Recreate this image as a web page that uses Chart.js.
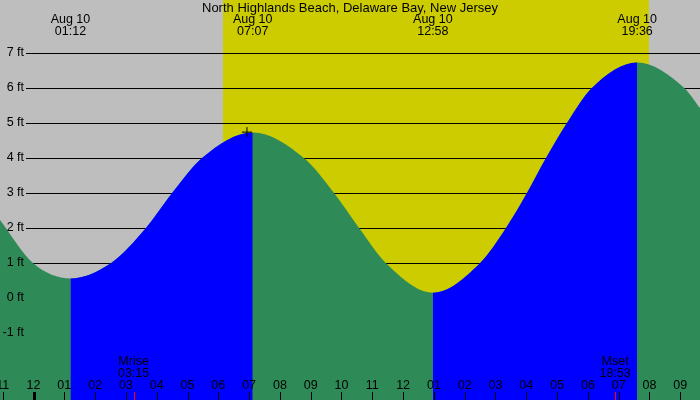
<!DOCTYPE html>
<html>
<head>
<meta charset="utf-8">
<script src="https://cdn.jsdelivr.net/npm/chart.js@4.4.1/dist/chart.umd.min.js"></script>
<style>
  html, body { margin: 0; padding: 0; background: #bebebe; }
  #wrap { width: 700px; height: 400px; }
</style>
</head>
<body>
<div id="wrap"><canvas id="tideChart" width="700" height="400"></canvas></div>
<script>
const title = 'North Highlands Beach, Delaware Bay, New Jersey';

// tide curve, hours after midnight Aug 10 -> feet
const tideHours = [-1.09, -0.02, 1.2, 2.52, 3.65, 4.5, 5.47, 7.117, 8.78, 9.76, 10.57, 11.44, 12.967, 14.5, 15.34, 16.02, 16.64, 17.32, 18.13, 19.6, 21.13, 21.64];
const tideFeet  = [2.23, 1.0, 0.56, 1.0, 2.0, 3.0, 4.0, 4.73, 4.0, 3.0, 2.0, 1.0, 0.15, 1.0, 2.0, 3.0, 4.0, 5.0, 6.0, 6.73, 6.0, 5.43];

// highs and lows labelled along the top
const extremeHours = [1.2, 7.117, 12.967, 19.6];
const extremeDates = ['Aug 10', 'Aug 10', 'Aug 10', 'Aug 10'];
const extremeTimes = ['01:12', '07:07', '12:58', '19:36'];

const sunriseHour = 6.15;
const sunsetHour = 19.98;

const moonHours = [3.25, 18.883];
const moonNames = ['Mrise', 'Mset'];
const moonTimes = ['03:15', '18:53'];

const hourTicks  = [-1, 0, 1, 2, 3, 4, 5, 6, 7, 8, 9, 10, 11, 12, 13, 14, 15, 16, 17, 18, 19, 20, 21];
const hourLabels = ['11', '12', '01', '02', '03', '04', '05', '06', '07', '08', '09', '10', '11', '12', '01', '02', '03', '04', '05', '06', '07', '08', '09'];
const feetTicks  = [-1, 0, 1, 2, 3, 4, 5, 6, 7];

const markerHours = [6.93];
const markerFeet = [4.74];

const riseColor = '#0000ff';
const fallColor = '#2e8b57';
const font = '12.5px "Liberation Sans", Arial, sans-serif';
const titleFont = '13px "Liberation Sans", Arial, sans-serif';

const tidePoints = tideHours.map((h, i) => ({x: h, y: tideFeet[i]}));

const tideDecor = {
  id: 'tideDecor',
  beforeDatasetsDraw(chart) {
    const {ctx, chartArea: a, scales: {x, y}} = chart;
    ctx.save();
    ctx.fillStyle = '#bebebe';
    ctx.fillRect(0, 0, chart.width, chart.height);
    // daylight band
    const x0 = x.getPixelForValue(sunriseHour);
    const x1 = x.getPixelForValue(sunsetHour);
    ctx.fillStyle = '#cccc00';
    ctx.fillRect(x0, 0, x1 - x0, chart.height);
    // feet lines
    ctx.strokeStyle = '#000';
    ctx.lineWidth = 1;
    feetTicks.forEach(f => {
      const py = Math.round(y.getPixelForValue(f)) + 0.5;
      ctx.beginPath();
      ctx.moveTo(26, py);
      ctx.lineTo(a.right, py);
      ctx.stroke();
    });
    ctx.restore();
  },
  afterDatasetsDraw(chart) {
    const {ctx, scales: {x, y}} = chart;
    ctx.save();
    ctx.font = font;
    ctx.fillStyle = '#000';
    ctx.textBaseline = 'middle';

    ctx.textAlign = 'right';
    feetTicks.forEach(f => {
      ctx.fillText(f + ' ft', 24, Math.round(y.getPixelForValue(f)));
    });

    ctx.textAlign = 'center';
    ctx.font = titleFont;
    ctx.fillText(title, 350, 8);
    ctx.font = font;
    extremeHours.forEach((h, i) => {
      const px = x.getPixelForValue(h);
      ctx.fillText(extremeDates[i], px, 20);
      ctx.fillText(extremeTimes[i], px, 32);
    });

    moonHours.forEach((h, i) => {
      const px = x.getPixelForValue(h);
      ctx.fillText(moonNames[i], px, 362);
      ctx.fillText(moonTimes[i], px, 374);
      ctx.fillStyle = '#ff0000';
      ctx.fillRect(Math.round(px), 392, 1, 8);
      ctx.fillStyle = '#000';
    });

    hourTicks.forEach((h, i) => {
      const px = x.getPixelForValue(h);
      ctx.fillText(hourLabels[i], px, 386);
      if (h % 24 === 0) ctx.fillRect(Math.round(px) - 1, 392, 3, 8);
      else ctx.fillRect(Math.round(px), 392, 1, 8);
    });
    ctx.restore();
  }
};

new Chart(document.getElementById('tideChart'), {
  type: 'line',
  data: {
    datasets: [{
      // current-time cross
      type: 'scatter',
      order: 0,
      data: markerHours.map((h, i) => ({x: h, y: markerFeet[i]})),
      pointStyle: 'cross',
      pointRadius: 5,
      borderColor: '#000',
      borderWidth: 1
    }, {
      // rising (flood) parts in blue, laid over the green
      order: 1,
      data: tidePoints,
      fill: 'start',
      borderWidth: 0,
      borderColor: 'rgba(0,0,0,0)',
      pointRadius: 0,
      cubicInterpolationMode: 'monotone',
      backgroundColor: 'rgba(0,0,0,0)',
      segment: {
        backgroundColor: c => c.p1.parsed.y > c.p0.parsed.y ? riseColor : 'rgba(0,0,0,0)'
      }
    }, {
      // whole curve in green underneath
      order: 2,
      data: tidePoints,
      fill: 'start',
      borderWidth: 0,
      borderColor: 'rgba(0,0,0,0)',
      pointRadius: 0,
      cubicInterpolationMode: 'monotone',
      backgroundColor: fallColor
    }]
  },
  options: {
    responsive: false,
    animation: false,
    layout: {padding: 0, autoPadding: false},
    plugins: {
      legend: {display: false},
      tooltip: {enabled: false}
    },
    scales: {
      x: {type: 'linear', min: -1.088, max: 21.64, display: false},
      y: {min: -2.914, max: 8.514, display: false}
    }
  },
  plugins: [tideDecor]
});
</script>
</body>
</html>
